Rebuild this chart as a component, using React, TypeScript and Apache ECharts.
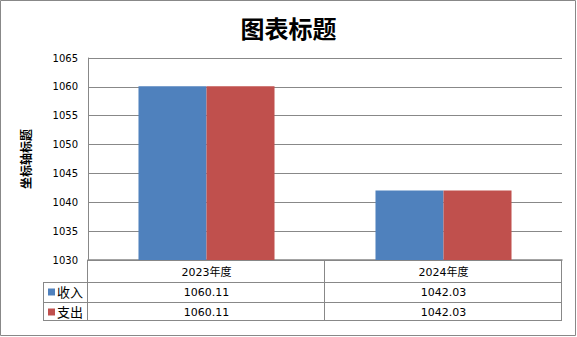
import React, { useEffect, useRef } from "react";
import * as echarts from "echarts";

const categories = ["2023年度", "2024年度"];
const seriesNames = ["收入", "支出"];
const incomeValues = [1060.11, 1042.03];
const expenseValues = [1060.11, 1042.03];
const seriesColors = ["#4F81BD", "#C0504D"];
const yMin = 1030;
const yMax = 1065;
const yInterval = 5;

const W = 577;
const H = 337;
const GRID_LEFT = 88;
const GRID_RIGHT = 15;
const GRID_TOP = 58;
const GRID_BOTTOM = 77;
const LINE = "#888888";
const FONT = "DejaVu Sans, Noto Sans CJK SC, sans-serif";

export default function App() {
  const ref = useRef<HTMLDivElement>(null);
  useEffect(() => {
    document.body.style.margin = "0";
    if (!ref.current) return;
    const chart = echarts.init(ref.current, undefined, { renderer: "svg" });
    const allValues = [incomeValues, expenseValues];

    const plotL = GRID_LEFT;
    const plotR = W - GRID_RIGHT;
    const plotB = H - GRID_BOTTOM;
    const colW = (plotR - plotL) / categories.length;
    const rowHead = 22;
    const rowH = 20;
    const legendL = 43;
    const y1 = plotB + rowHead;
    const yRows = seriesNames.map((_, i) => y1 + rowH * i);
    const yEnd = y1 + rowH * seriesNames.length - 2;

    const g: any[] = [];
    g.push({ type: "rect", shape: { x: 0.5, y: 0.5, width: W - 2, height: H - 2 }, style: { fill: "none", stroke: LINE, lineWidth: 1 }, silent: true });
    [y1, y1 + rowH, yEnd].forEach((yy) => {
      g.push({ type: "line", shape: { x1: legendL, y1: yy + 0.5, x2: plotR, y2: yy + 0.5 }, style: { stroke: LINE, lineWidth: 1 } });
    });
    for (let c = 0; c <= categories.length; c++) {
      const xx = Math.round(plotL + colW * c) - 0.5;
      g.push({ type: "line", shape: { x1: xx, y1: plotB, x2: xx, y2: yEnd + 0.5 }, style: { stroke: LINE, lineWidth: 1 } });
    }
    g.push({ type: "line", shape: { x1: legendL + 0.5, y1: y1, x2: legendL + 0.5, y2: yEnd + 0.5 }, style: { stroke: LINE, lineWidth: 1 } });
    categories.forEach((cat, c) => {
      g.push({ type: "text", x: plotL + colW * (c + 0.5), y: plotB + rowHead / 2 + 1, style: { text: cat, font: `11px ${FONT}`, fill: "#000", align: "center", verticalAlign: "middle" } });
    });
    seriesNames.forEach((name, r) => {
      const cy = yRows[r] + rowH / 2;
      g.push({ type: "rect", shape: { x: legendL + 5, y: cy - 3.5, width: 7, height: 7 }, style: { fill: seriesColors[r] } });
      g.push({ type: "text", x: legendL + 14, y: cy, style: { text: name, font: `13px ${FONT}`, fill: "#000", align: "left", verticalAlign: "middle" } });
      allValues[r].forEach((v, c) => {
        g.push({ type: "text", x: plotL + colW * (c + 0.5), y: cy, style: { text: v.toFixed(2), font: `11px ${FONT}`, fill: "#000", align: "center", verticalAlign: "middle" } });
      });
    });

    chart.setOption({
      animation: false,
      backgroundColor: "#fff",
      title: {
        text: "图表标题",
        left: "center",
        top: 10,
        textStyle: { fontSize: 24, fontWeight: "bold", color: "#000", fontFamily: "Noto Sans CJK SC" },
      },
      grid: { left: GRID_LEFT, right: GRID_RIGHT, top: GRID_TOP, bottom: GRID_BOTTOM },
      xAxis: {
        type: "category",
        data: categories,
        axisLine: { show: true, lineStyle: { color: "#868686", width: 1.5 } },
        axisTick: { show: false },
        axisLabel: { show: false },
      },
      yAxis: {
        type: "value",
        min: yMin,
        max: yMax,
        interval: yInterval,
        name: "坐标轴标题",
        nameLocation: "middle",
        nameGap: 57,
        nameRotate: 90,
        nameTextStyle: { fontSize: 12, fontWeight: "bold", color: "#000", fontFamily: "Noto Sans CJK SC" },
        axisLine: { show: true, lineStyle: { color: LINE } },
        axisTick: { show: false },
        axisLabel: { color: "#000", fontSize: 10, margin: 10, fontFamily: FONT, formatter: (v: number) => String(v) },
        splitLine: { lineStyle: { color: LINE } },
      },
      series: [
        { name: seriesNames[0], type: "bar", data: incomeValues, itemStyle: { color: seriesColors[0] }, barGap: "0%", barCategoryGap: "42.6%" },
        { name: seriesNames[1], type: "bar", data: expenseValues, itemStyle: { color: seriesColors[1] }, barGap: "0%", barCategoryGap: "42.6%" },
      ],
      graphic: g,
    });
    return () => chart.dispose();
  }, []);
  return <div ref={ref} style={{ width: W, height: H }} />;
}
